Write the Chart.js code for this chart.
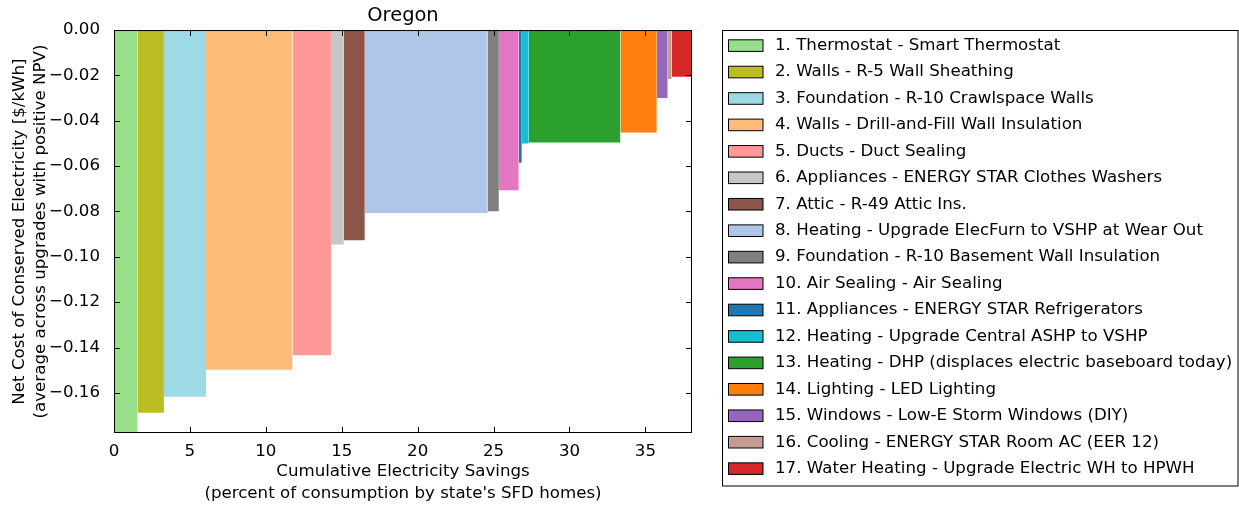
<!DOCTYPE html>
<html>
<head>
<meta charset="utf-8">
<title>Oregon</title>
<script src="https://cdn.jsdelivr.net/npm/chart.js@4.4.1/dist/chart.umd.min.js"></script>
<style>
  html, body { margin: 0; padding: 0; background: #fff; }
  #wrap { width: 1239px; height: 508px; }
</style>
</head>
<body>
<div id="wrap"><canvas id="supplyCurve" width="1239" height="508"></canvas></div>
<script>
/*.............................Oregon supply curve.............................*/

const measures = [
  '1. Thermostat - Smart Thermostat',
  '2. Walls - R-5 Wall Sheathing',
  '3. Foundation - R-10 Crawlspace Walls',
  '4. Walls - Drill-and-Fill Wall Insulation',
  '5. Ducts - Duct Sealing',
  '6. Appliances - ENERGY STAR Clothes Washers',
  '7. Attic - R-49 Attic Ins.',
  '8. Heating - Upgrade ElecFurn to VSHP at Wear Out',
  '9. Foundation - R-10 Basement Wall Insulation',
  '10. Air Sealing - Air Sealing',
  '11. Appliances - ENERGY STAR Refrigerators',
  '12. Heating - Upgrade Central ASHP to VSHP',
  '13. Heating - DHP (displaces electric baseboard today)',
  '14. Lighting - LED Lighting',
  '15. Windows - Low-E Storm Windows (DIY)',
  '16. Cooling - ENERGY STAR Room AC (EER 12)',
  '17. Water Heating - Upgrade Electric WH to HPWH'
];

// electricity saved by each upgrade (% of state SFD consumption) = bar width
const savings = [1.56, 1.73, 2.77, 5.70, 2.53, 0.85, 1.38, 8.10, 0.73, 1.31, 0.20, 0.46, 6.04, 2.39, 0.72, 0.26, 1.34];

// net cost of conserved electricity, $/kWh = bar height
const costs = [-0.1777, -0.1688, -0.1617, -0.1498, -0.1434, -0.0946, -0.0927, -0.0807, -0.0799, -0.0706,
               -0.0585, -0.0500, -0.0496, -0.0452, -0.0300, -0.0216, -0.0206];

const colors = ['#98df8a', '#bcbd22', '#9edae5', '#ffbb78', '#ff9896', '#c7c7c7', '#8c564b', '#aec7e8', '#7f7f7f',
                '#e377c2', '#1f77b4', '#17becf', '#2ca02c', '#ff7f0e', '#9467bd', '#c49c94', '#d62728'];

const xTicks = [0, 5, 10, 15, 20, 25, 30, 35];
const yTicks = [0, -0.02, -0.04, -0.06, -0.08, -0.10, -0.12, -0.14, -0.16];

// each upgrade is a block from the running total of savings, filled up to zero
let runningTotal = 0;
const blocks = measures.map((name, i) => {
  const start = runningTotal;
  runningTotal += savings[i];
  return {
    label: name,
    data: [{x: start, y: costs[i]}, {x: runningTotal, y: costs[i]}],
    backgroundColor: colors[i],
    borderColor: 'rgba(0,0,0,0)',
    borderWidth: 0,
    pointRadius: 0,
    tension: 0,
    fill: 'origin'
  };
});

const FONT_SIZE = 16.67;
Chart.defaults.font.family = "'DejaVu Sans', sans-serif";
Chart.defaults.font.size = FONT_SIZE;
Chart.defaults.color = '#000';

const minus = v => (v < 0 ? '\u2212' : '') + Math.abs(v).toFixed(2);

// spines on all four sides, ticks pointing inward
const frameAndTicks = {
  id: 'frameAndTicks',
  afterDatasetsDraw(chart) {
    const {ctx, chartArea: a, scales: {x, y}} = chart;
    const len = 6;
    ctx.save();
    ctx.strokeStyle = '#000';
    ctx.lineWidth = 1;
    ctx.beginPath();
    x.ticks.forEach(t => {
      const px = Math.round(x.getPixelForValue(t.value)) + 0.5;
      ctx.moveTo(px, a.bottom); ctx.lineTo(px, a.bottom - len);
      ctx.moveTo(px, a.top); ctx.lineTo(px, a.top + len);
    });
    y.ticks.forEach(t => {
      const py = Math.round(y.getPixelForValue(t.value)) + 0.5;
      ctx.moveTo(a.left, py); ctx.lineTo(a.left + len, py);
      ctx.moveTo(a.right, py); ctx.lineTo(a.right - len, py);
    });
    ctx.stroke();
    ctx.strokeRect(a.left + 0.5, a.top + 0.5, a.right - a.left - 1, a.bottom - a.top - 1);
    ctx.restore();
  }
};

// boxed legend to the right of the axes
const boxedLegend = {
  id: 'boxedLegend',
  afterDraw(chart) {
    const {ctx} = chart;
    const left = 722, top = 30.5, right = 1237.5, bottom = 486;
    const firstRow = 45.6, rowStep = 26.44;
    ctx.save();
    ctx.fillStyle = '#fff';
    ctx.fillRect(left, top, right - left, bottom - top);
    ctx.strokeStyle = '#000';
    ctx.lineWidth = 1;
    ctx.strokeRect(left + 0.5, top, right - left, bottom - top);
    ctx.font = FONT_SIZE + "px 'DejaVu Sans', sans-serif";
    ctx.textBaseline = 'middle';
    chart.data.datasets.forEach((ds, i) => {
      const cy = firstRow + i * rowStep;
      ctx.fillStyle = ds.backgroundColor;
      ctx.fillRect(728.5, cy - 5.8, 34.5, 11.6);
      ctx.strokeStyle = '#000';
      ctx.strokeRect(728.5, cy - 5.8, 34.5, 11.6);
      ctx.fillStyle = '#000';
      ctx.fillText(ds.label, 775, cy);
    });
    ctx.restore();
  }
};

const config = {
  type: 'line',
  data: {datasets: blocks},
  options: {
    responsive: false,
    animation: false,
    devicePixelRatio: 1,
    layout: {padding: {left: 0, right: 547, top: 0, bottom: 0}},
    plugins: {
      legend: {display: false},
      tooltip: {enabled: false},
      title: {
        display: true,
        text: 'Oregon',
        fullSize: false,
        color: '#000',
        font: {size: 19.45, weight: 'normal', lineHeight: 1.2},
        padding: {top: 4.5, bottom: 2.2}
      }
    },
    scales: {
      x: {
        type: 'linear',
        min: 0,
        max: runningTotal,
        afterBuildTicks: s => { s.ticks = xTicks.map(v => ({value: v})); },
        afterFit: s => { s.height = 75; },
        grid: {display: false},
        border: {display: false},
        ticks: {padding: 1, autoSkip: false, maxRotation: 0, callback: v => String(v)},
        title: {
          display: true,
          text: ['Cumulative Electricity Savings', "(percent of consumption by state's SFD homes)"],
          font: {size: FONT_SIZE, lineHeight: 1.28},
          padding: {top: 0, bottom: 4}
        }
      },
      y: {
        type: 'linear',
        min: Math.min(...costs),
        max: 0,
        afterBuildTicks: s => { s.ticks = yTicks.map(v => ({value: v})); },
        afterFit: s => { s.width = 114; },
        grid: {display: false},
        border: {display: false},
        ticks: {padding: 6, autoSkip: false, callback: v => minus(v)},
        title: {
          display: true,
          text: ['Net Cost of Conserved Electricity [$/kWh]', '(average across upgrades with positive NPV)'],
          font: {size: FONT_SIZE, lineHeight: 1.26},
          padding: {top: 9, bottom: 0}
        }
      }
    }
  },
  plugins: [frameAndTicks, boxedLegend]
};

const ctx = document.getElementById('supplyCurve').getContext('2d');
const supplyCurve = new Chart(ctx, config);

/*.............................Oregon supply curve.............................*/
</script>
</body>
</html>
